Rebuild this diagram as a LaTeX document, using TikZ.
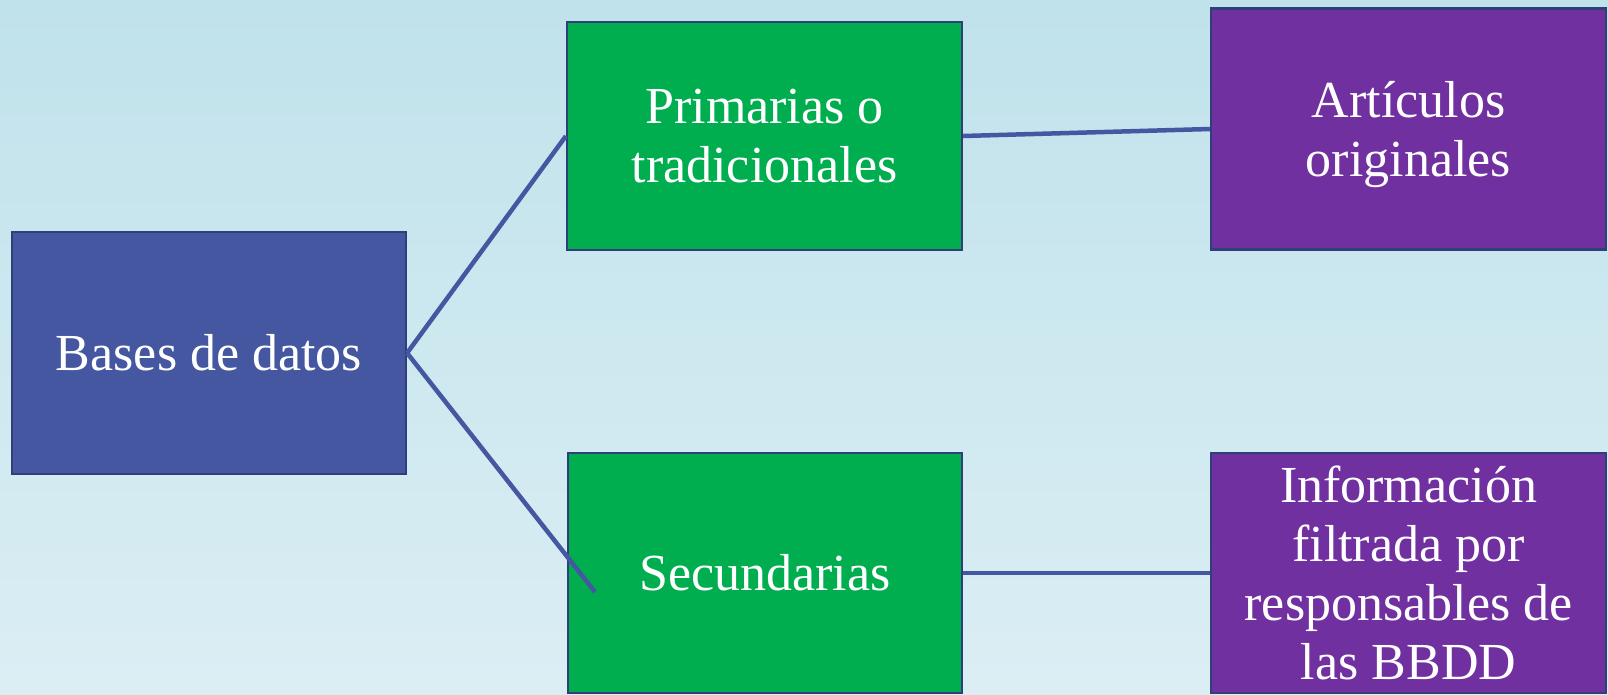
\documentclass[tikz,border=0pt]{standalone}
\usepackage{fontspec}
\setmainfont{Liberation Serif}
\definecolor{bgtop}{HTML}{C0E2EB}
\definecolor{bgbot}{HTML}{DBEEF4}
\definecolor{navy}{HTML}{4457A0}
\definecolor{edge}{HTML}{2F3F7A}
\definecolor{grn}{HTML}{00AE4F}
\definecolor{purp}{HTML}{7030A0}
\tikzset{
  box/.style={rectangle, draw=edge, line width=2.2pt, text=white, align=center,
    inner sep=0pt, font=\fontsize{52}{59}\selectfont},
  conn/.style={draw=navy, line width=4.5pt}
}
\begin{document}
\begin{tikzpicture}[x=1pt,y=-1pt]
\shade[top color=bgtop, bottom color=bgbot] (0,0) rectangle (1608,694);
\useasboundingbox (0,0) rectangle (1608,694);
\node[box, fill=navy, minimum width=394pt, minimum height=242pt] (bases) at (209,353) {Bases de datos};
\node[box, fill=grn, minimum width=395pt, minimum height=228pt] (prim) at (764.5,136) {Primarias o\\tradicionales};
\node[box, fill=purp, minimum width=395pt, minimum height=241pt, text depth=0pt] (art) at (1408.5,129) {Artículos\\originales};
\node[box, fill=grn, minimum width=394pt, minimum height=240pt] (sec) at (765,573) {Secundarias};
\node[box, fill=purp, minimum width=395pt, minimum height=240pt] (info) at (1408.5,573) {Información\\filtrada por\\responsables de\\las BBDD};
\coordinate (secend) at (595,592);
\draw[conn] (bases.east) -- (prim.west);
\draw[conn] (bases.east) -- (secend);
\draw[conn] (prim.east) -- (art.west);
\draw[conn] (sec.east) -- (info.west);
\end{tikzpicture}
\end{document}
